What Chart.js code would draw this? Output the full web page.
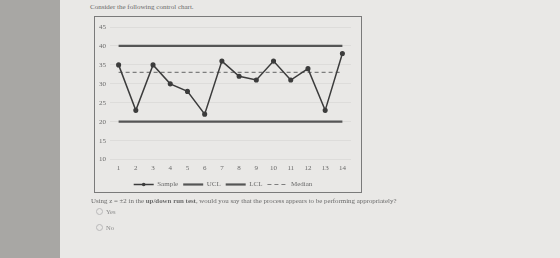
<!DOCTYPE html>
<html>
<head>
<meta charset="utf-8">
<script src="https://cdn.jsdelivr.net/npm/chart.js@4.4.0/dist/chart.umd.min.js"></script>
<style>
  html, body { margin: 0; padding: 0; }
  body { width: 560px; height: 258px; background: #e9e8e6; position: relative; overflow: hidden;
         font-family: "Liberation Serif", serif; color: #6a6a6a; }
  #strip { position: absolute; left: 0; top: 0; width: 60px; height: 258px; background: #a8a7a4; }
  #title { position: absolute; left: 90px; top: 3px; font-size: 7px; }
  #box { position: absolute; left: 94px; top: 16px; width: 268px; height: 177px; border: 1px solid #7a7a7a; box-sizing: border-box; }
  #chart { position: absolute; left: 0; top: 0; }
  #q { position: absolute; left: 91px; top: 197px; font-size: 6.9px; white-space: nowrap; }
  .opt { position: absolute; left: 96px; font-size: 6.6px; color: #8a8a8a; }
  .opt span { display: inline-block; width: 5px; height: 5px; border: 1px solid #b8b8b8; border-radius: 50%; margin-right: 3px; vertical-align: -1px; }
</style>
</head>
<body>
<div id="strip"></div>
<div id="title">Consider the following control chart.</div>
<div id="box"><canvas id="chart" width="266" height="181"></canvas></div>
<div id="q">Using z = &plusmn;2 in the <b>up/down run test</b>, would you say that the process appears to be performing appropriately?</div>
<div class="opt" style="top:208px"><span></span>Yes</div>
<div class="opt" style="top:224px"><span></span>No</div>
<script>
const labels = ['1','2','3','4','5','6','7','8','9','10','11','12','13','14'];
const sample = [35, 23, 35, 30, 28, 22, 36, 32, 31, 36, 31, 34, 23, 38];
const ucl = [40, 40, 40, 40, 40, 40, 40, 40, 40, 40, 40, 40, 40, 40];
const lcl = [20, 20, 20, 20, 20, 20, 20, 20, 20, 20, 20, 20, 20, 20];
const median = [33, 33, 33, 33, 33, 33, 33, 33, 33, 33, 33, 33, 33, 33];

const ctx = document.getElementById('chart').getContext('2d');
const font = { family: 'Liberation Serif', size: 7 };

// dot in the middle of the Sample legend line
const legendDot = {
  id: 'legendDot',
  afterDraw(chart) {
    const box = chart.legend.legendHitBoxes[0];
    if (!box) return;
    const c = chart.ctx;
    c.save();
    c.fillStyle = '#3c3c3c';
    c.beginPath();
    c.arc(box.left + 10, box.top + box.height / 2, 1.8, 0, Math.PI * 2);
    c.fill();
    c.restore();
  }
};

new Chart(ctx, {
  type: 'line',
  data: {
    labels: labels,
    datasets: [
      { label: 'Sample', data: sample, borderColor: '#3c3c3c', backgroundColor: '#3c3c3c',
        borderWidth: 1.5, pointRadius: 1.8, tension: 0 },
      { label: 'UCL', data: ucl, borderColor: '#555', backgroundColor: '#555',
        borderWidth: 2.2, pointRadius: 0 },
      { label: 'LCL', data: lcl, borderColor: '#555', backgroundColor: '#555',
        borderWidth: 2.2, pointRadius: 0 },
      { label: 'Median', data: median, borderColor: '#7e7e7e', backgroundColor: '#7e7e7e',
        borderWidth: 1.2, borderDash: [4, 3], pointRadius: 0 }
    ]
  },
  options: {
    responsive: false,
    animation: false,
    layout: { padding: { top: 10, right: 10, left: 0, bottom: 0 } },
    plugins: {
      legend: {
        position: 'bottom',
        labels: {
          color: '#6a6a6a',
          font: font,
          usePointStyle: true,
          pointStyleWidth: 20,
          boxWidth: 20,
          padding: 5,
          generateLabels(chart) {
            return chart.data.datasets.map((ds, i) => ({
              text: ds.label,
              fillStyle: ds.borderColor,
              strokeStyle: ds.borderColor,
              lineWidth: ds.borderWidth,
              lineDash: ds.borderDash || [],
              pointStyle: 'line',
              fontColor: '#6a6a6a',
              hidden: false,
              datasetIndex: i
            }));
          }
        }
      },
      tooltip: { enabled: false }
    },
    scales: {
      x: {
        offset: true,
        grid: { display: false, drawTicks: false },
        border: { display: false },
        ticks: { color: '#6a6a6a', font: font, maxRotation: 0, padding: 4 }
      },
      y: {
        min: 10,
        max: 45,
        ticks: { stepSize: 5, color: '#6a6a6a', font: font, padding: 4 },
        grid: { color: 'rgba(0,0,0,0.05)', drawTicks: false },
        border: { display: false }
      }
    }
  },
  plugins: [legendDot]
});
</script>
</body>
</html>
